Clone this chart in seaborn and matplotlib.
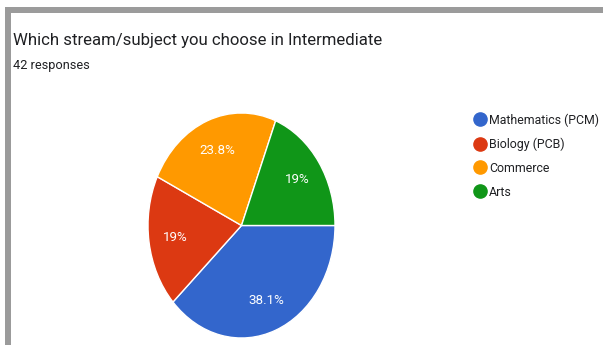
import matplotlib
matplotlib.use("Agg")
import matplotlib.pyplot as plt
import seaborn as sns
from matplotlib.lines import Line2D
from matplotlib.patches import Rectangle

# Survey answers (42 responses)
streams = ["Mathematics (PCM)", "Biology (PCB)", "Commerce", "Arts"]
counts = [16, 8, 10, 8]
colors = ["#3366CC", "#DC3912", "#FF9900", "#109618"]
title = "Which stream/subject you choose in Intermediate"
subtitle = "42 responses"

sns.set_theme(style="white")
plt.rcParams["font.family"] = ["Roboto", "DejaVu Sans"]

W, H = 603, 345
fig = plt.figure(figsize=(W / 100, H / 100), dpi=100)
fig.patch.set_facecolor("white")

# grey frame along top and left edge
frame = "#9b9b9b"
fig.patches.append(Rectangle((5 / W, 1 - 13 / H), 1 - 5 / W, 6 / H,
                             transform=fig.transFigure, color=frame, lw=0))
fig.patches.append(Rectangle((5 / W, 0), 6 / W, 1 - 7 / H,
                             transform=fig.transFigure, color=frame, lw=0))

fig.text(13 / W, 1 - 45 / H, title, fontsize=12.1, color="#202124",
         va="baseline", ha="left")
fig.text(13 / W, 1 - 69 / H, subtitle, fontsize=9.2, color="#202124",
         va="baseline", ha="left")


def pct_label(p):
    s = f"{p:.1f}"
    if s.endswith(".0"):
        s = s[:-2]
    return s + "%"


ax = fig.add_axes([148 / W, 7 / H, 187 / W, 225 / H])
wedges, _, autotexts = ax.pie(
    counts, colors=colors, startangle=0, counterclock=False,
    autopct=pct_label, pctdistance=0.72,
    wedgeprops=dict(edgecolor="white", linewidth=1),
    textprops=dict(color="white", fontsize=9.6),
)
ax.set_aspect("auto")
ax.set_xlim(-1, 1)
ax.set_ylim(-1, 1)
ax.axis("off")

handles = [Line2D([0], [0], marker="o", linestyle="none", markersize=9.5,
                  markerfacecolor=c, markeredgecolor=c) for c in colors]
fig.legend(handles, streams, loc="upper left",
           bbox_to_anchor=(468 / W, 1 - 107 / H), frameon=False,
           fontsize=8.9, labelspacing=0.88, handletextpad=0.2,
           handlelength=1.0, borderpad=0, labelcolor="#202124")

fig.savefig("out.png", dpi=100)
